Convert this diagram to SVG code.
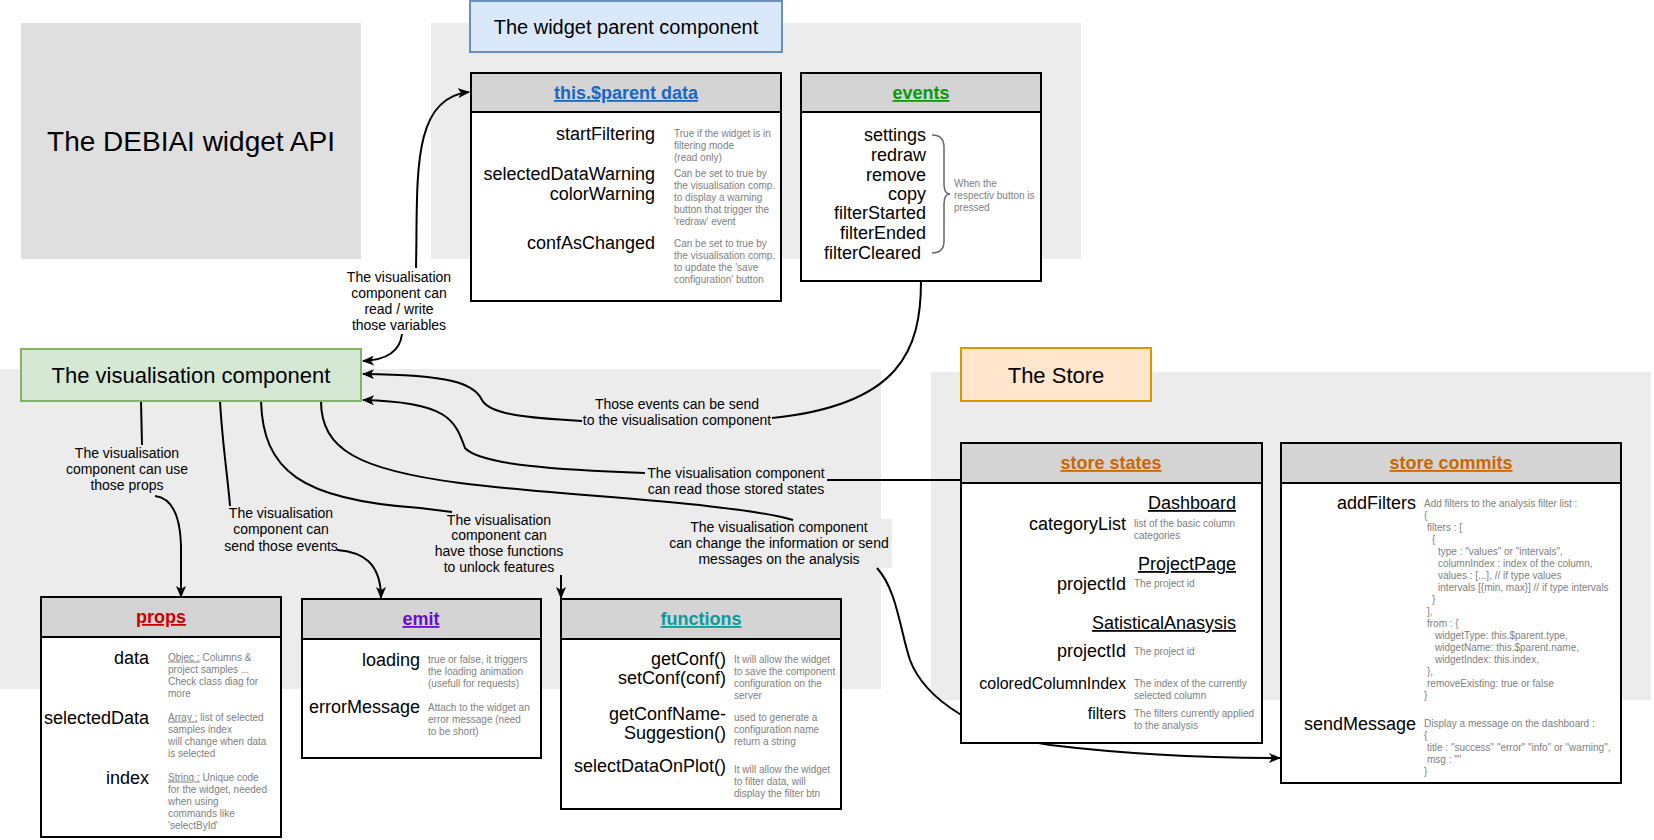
<svg xmlns="http://www.w3.org/2000/svg" width="1654" height="840" viewBox="0 0 1654 840">
<style>
text{font-family:"Liberation Sans",Arial,Helvetica,sans-serif;fill:#000}
.area{fill:#ececec}
.box{fill:#fff;stroke:#000;stroke-width:2}
.hdr{fill:#d4d4d4;stroke:#000;stroke-width:2}
.ttl{font-size:18px;font-weight:bold;text-anchor:middle;text-decoration:underline}
.lbl{font-size:18px;text-anchor:end}
.lbl16{font-size:16px;text-anchor:end}
.sec{font-size:18px;text-anchor:end;text-decoration:underline}
.d{font-size:10px;fill:#808080}
.big{font-size:22px;text-anchor:middle}
.el{font-size:14px;text-anchor:middle}
.edge{fill:none;stroke:#000;stroke-width:2}
</style>
<defs>
<marker id="arr" viewBox="0 0 12 10" refX="11" refY="5" markerWidth="12" markerHeight="10" orient="auto-start-reverse" markerUnits="userSpaceOnUse">
<path d="M0,0 L12,5 L0,10 L3,5 z" fill="#000"/>
</marker>
</defs>

<!-- background areas -->
<g id="areas">
<rect x="21" y="23" width="340" height="236" fill="#dfdfdf"/>
<rect class="area" x="431" y="23" width="650" height="236"/>
<rect class="area" x="0" y="369" width="881" height="320"/>
<rect class="area" x="931" y="372" width="720" height="328"/>
</g>

<g id="title">
<text x="191" y="151" style="font-size:28px;text-anchor:middle">The DEBIAI widget API</text>
</g>

<!-- connectors -->
<g id="connectors">
<rect x="668" y="519" width="224" height="49" fill="#ececec"/>
<!-- C1 read/write -->
<path class="edge" d="M416 268 C418 180, 410 98, 469 92" marker-end="url(#arr)"/>
<path class="edge" d="M402 334 C400 352, 386 360, 363 361" marker-end="url(#arr)"/>
<!-- C2 events -->
<path class="edge" d="M921 281 C921 350, 900 405, 772 418"/>
<path class="edge" d="M582 421 C530 418, 490 415, 482 400 C474 383, 450 375, 363 374" marker-end="url(#arr)"/>
<!-- C3 stored states -->
<path class="edge" d="M961 480 L827 480"/>
<path class="edge" d="M645 473 C560 470, 480 465, 465 448 C455 420, 448 402, 363 400" marker-end="url(#arr)"/>
<!-- C4 change info -->
<path class="edge" d="M321 401 C321 450, 360 470, 460 483 C560 496, 730 502, 793 520"/>
<path class="edge" d="M877 568 C897 590, 900 630, 910 660 C925 700, 980 735, 1050 745 C1150 757, 1230 758, 1280 758" marker-end="url(#arr)"/>
<!-- C5 props -->
<path class="edge" d="M141 401 L142 445"/>
<path class="edge" d="M155 496 C172 498, 180 515, 181 545 L181 597" marker-end="url(#arr)"/>
<!-- C6 emit -->
<path class="edge" d="M220 401 C222 440, 228 480, 230 506"/>
<path class="edge" d="M337 550 C362 552, 381 562, 381 598" marker-end="url(#arr)"/>
<!-- C7 functions -->
<path class="edge" d="M261 401 C263 470, 300 500, 420 508 L452 512"/>
<path class="edge" d="M561 575 L561 598" marker-end="url(#arr)"/>

<text class="el"><tspan x="399" y="282">The visualisation</tspan><tspan x="399" y="298">component can</tspan><tspan x="399" y="314">read / write</tspan><tspan x="399" y="330">those variables</tspan></text>
<text class="el"><tspan x="677" y="409">Those events can be send</tspan><tspan x="677" y="425">to the visualisation component</tspan></text>
<text class="el"><tspan x="736" y="478">The visualisation component</tspan><tspan x="736" y="494">can read those stored states</tspan></text>
<text class="el"><tspan x="779" y="532">The visualisation component</tspan><tspan x="779" y="548">can change the information or send</tspan><tspan x="779" y="564">messages on the analysis</tspan></text>
<text class="el"><tspan x="127" y="458">The visualisation</tspan><tspan x="127" y="474">component can use</tspan><tspan x="127" y="490">those props</tspan></text>
<text class="el"><tspan x="281" y="518">The visualisation</tspan><tspan x="281" y="534">component can</tspan><tspan x="281" y="551">send those events</tspan></text>
<text class="el"><tspan x="499" y="525">The visualisation</tspan><tspan x="499" y="540">component can</tspan><tspan x="499" y="556">have those functions</tspan><tspan x="499" y="572">to unlock features</tspan></text>
</g>

<g id="widget-parent">
<rect x="470" y="1" width="312" height="51" fill="#dae8fc" stroke="#6c8ebf" stroke-width="2"/>
<text x="626" y="34" style="font-size:20px;text-anchor:middle">The widget parent component</text>
</g>

<g id="parent-data">
<rect class="box" x="471" y="73" width="310" height="228"/>
<rect class="hdr" x="471" y="73" width="310" height="39"/>
<text class="ttl" x="626" y="99" style="fill:#1a66c8">this.$parent data</text>
<text class="lbl" x="655" y="140">startFiltering</text>
<text class="lbl" x="655" y="180">selectedDataWarning</text>
<text class="lbl" x="655" y="200">colorWarning</text>
<text class="lbl" x="655" y="249">confAsChanged</text>
<text class="d"><tspan x="674" y="136.5">True if the widget is in</tspan><tspan x="674" y="148.5">filtering mode</tspan><tspan x="674" y="160.5">(read only)</tspan></text>
<text class="d"><tspan x="674" y="176.5">Can be set to true by</tspan><tspan x="674" y="188.5">the visualisation comp.</tspan><tspan x="674" y="200.5">to display a warning</tspan><tspan x="674" y="212.5">button that trigger the</tspan><tspan x="674" y="224.5">'redraw' event</tspan></text>
<text class="d"><tspan x="674" y="246.5">Can be set to true by</tspan><tspan x="674" y="258.5">the visualisation comp.</tspan><tspan x="674" y="270.5">to update the 'save</tspan><tspan x="674" y="282.5">configuration' button</tspan></text>
</g>

<g id="events">
<rect class="box" x="801" y="73" width="240" height="208"/>
<rect class="hdr" x="801" y="73" width="240" height="39"/>
<text class="ttl" x="921" y="99" style="fill:#0a9a0a">events</text>
<text class="lbl" x="926" y="141">settings</text>
<text class="lbl" x="926" y="161">redraw</text>
<text class="lbl" x="926" y="181">remove</text>
<text class="lbl" x="926" y="200">copy</text>
<text class="lbl" x="926" y="219">filterStarted</text>
<text class="lbl" x="926" y="239">filterEnded</text>
<text class="lbl" x="921" y="259">filterCleared</text>
<path d="M932 135 Q944 135 944 147 L944 184 Q944 194 950 194 Q944 194 944 204 L944 241 Q944 253 932 253" fill="none" stroke="#666" stroke-width="1.5"/>
<text class="d"><tspan x="954" y="186.5">When the</tspan><tspan x="954" y="198.5">respectiv button is</tspan><tspan x="954" y="210.5">pressed</tspan></text>
</g>

<g id="visualisation">
<rect x="21" y="349" width="340" height="52" fill="#d5e8d4" stroke="#82b366" stroke-width="2"/>
<text class="big" x="191" y="383">The visualisation component</text>
</g>

<g id="props">
<rect class="box" x="41" y="597" width="240" height="240"/>
<rect class="hdr" x="41" y="597" width="240" height="40"/>
<text class="ttl" x="161" y="623" style="fill:#cc0000">props</text>
<text class="lbl" x="149" y="664">data</text>
<text class="lbl" x="149" y="724">selectedData</text>
<text class="lbl" x="149" y="784">index</text>
<text class="d"><tspan x="168" y="660.5" text-decoration="underline">Objec :</tspan><tspan> Columns &amp;</tspan><tspan x="168" y="672.5">project samples ...</tspan><tspan x="168" y="684.5">Check class diag for</tspan><tspan x="168" y="696.5">more</tspan></text>
<text class="d"><tspan x="168" y="720.5" text-decoration="underline">Array :</tspan><tspan> list of selected</tspan><tspan x="168" y="732.5">samples index</tspan><tspan x="168" y="744.5">will change when data</tspan><tspan x="168" y="756.5">is selected</tspan></text>
<text class="d"><tspan x="168" y="780.5" text-decoration="underline">String :</tspan><tspan> Unique code</tspan><tspan x="168" y="792.5">for the widget, needed</tspan><tspan x="168" y="804.5">when using</tspan><tspan x="168" y="816.5">commands like</tspan><tspan x="168" y="828.5">'selectById'</tspan></text>
</g>

<g id="emit">
<rect class="box" x="302" y="599" width="239" height="159"/>
<rect class="hdr" x="302" y="599" width="239" height="40"/>
<text class="ttl" x="421" y="625" style="fill:#6a0dcc">emit</text>
<text class="lbl" x="420" y="666">loading</text>
<text class="lbl" x="420" y="713">errorMessage</text>
<text class="d"><tspan x="428" y="662.5">true or false, it triggers</tspan><tspan x="428" y="674.5">the loading animation</tspan><tspan x="428" y="686.5">(usefull for requests)</tspan></text>
<text class="d"><tspan x="428" y="710.5">Attach to the widget an</tspan><tspan x="428" y="722.5">error message (need</tspan><tspan x="428" y="734.5">to be short)</tspan></text>
</g>

<g id="functions">
<rect class="box" x="561" y="599" width="280" height="210"/>
<rect class="hdr" x="561" y="599" width="280" height="40"/>
<text class="ttl" x="701" y="625" style="fill:#0a9a9a">functions</text>
<text class="lbl" x="726" y="665">getConf()</text>
<text class="lbl" x="726" y="684">setConf(conf)</text>
<text class="lbl" x="726" y="720">getConfName-</text>
<text class="lbl" x="726" y="739">Suggestion()</text>
<text class="lbl" x="726" y="772">selectDataOnPlot()</text>
<text class="d"><tspan x="734" y="662.5">It will allow the widget</tspan><tspan x="734" y="674.5">to save the component</tspan><tspan x="734" y="686.5">configuration on the</tspan><tspan x="734" y="698.5">server</tspan></text>
<text class="d"><tspan x="734" y="720.5">used to generate a</tspan><tspan x="734" y="732.5">configuration name</tspan><tspan x="734" y="744.5">return a string</tspan></text>
<text class="d"><tspan x="734" y="772.5">It will allow the widget</tspan><tspan x="734" y="784.5">to filter data, will</tspan><tspan x="734" y="796.5">display the filter btn</tspan></text>
</g>

<g id="store">
<rect x="961" y="348" width="190" height="53" fill="#ffe6cc" stroke="#d79b00" stroke-width="2"/>
<text class="big" x="1056" y="383">The Store</text>
</g>

<g id="store-states">
<rect class="box" x="961" y="443" width="301" height="300"/>
<rect class="hdr" x="961" y="443" width="301" height="40"/>
<text class="ttl" x="1111" y="469" style="fill:#cc6600">store states</text>
<text class="sec" x="1236" y="509">Dashboard</text>
<text class="lbl" x="1126" y="530">categoryList</text>
<text class="d"><tspan x="1134" y="526.5">list of the basic column</tspan><tspan x="1134" y="538.5">categories</tspan></text>
<text class="sec" x="1236" y="570">ProjectPage</text>
<text class="lbl" x="1126" y="590">projectId</text>
<text class="d" x="1134" y="586.5">The project id</text>
<text class="sec" x="1236" y="629">SatisticalAnasysis</text>
<text class="lbl" x="1126" y="657">projectId</text>
<text class="d" x="1134" y="654.5">The project id</text>
<text class="lbl16" x="1126" y="689">coloredColumnIndex</text>
<text class="d"><tspan x="1134" y="686.5">The index of the currently</tspan><tspan x="1134" y="698.5">selected column</tspan></text>
<text class="lbl16" x="1126" y="719">filters</text>
<text class="d"><tspan x="1134" y="716.5">The filters currently applied</tspan><tspan x="1134" y="728.5">to the analysis</tspan></text>
</g>

<g id="store-commits">
<rect class="box" x="1281" y="443" width="340" height="340"/>
<rect class="hdr" x="1281" y="443" width="340" height="40"/>
<text class="ttl" x="1451" y="469" style="fill:#cc6600">store commits</text>
<text class="lbl" x="1416" y="509">addFilters</text>
<text class="d">
<tspan x="1424" y="506.5">Add filters to the analysis filter list :</tspan>
<tspan x="1424" y="518.5">{</tspan>
<tspan x="1427" y="530.5">filters : [</tspan>
<tspan x="1432" y="542.5">{</tspan>
<tspan x="1438" y="554.5">type : "values" or "intervals",</tspan>
<tspan x="1438" y="566.5">columnIndex : index of the column,</tspan>
<tspan x="1438" y="578.5">values : [...], // if type values</tspan>
<tspan x="1438" y="590.5">intervals [{min, max}] // if type intervals</tspan>
<tspan x="1432" y="602.5">}</tspan>
<tspan x="1427" y="614.5">],</tspan>
<tspan x="1427" y="626.5">from : {</tspan>
<tspan x="1435" y="638.5">widgetType: this.$parent.type,</tspan>
<tspan x="1435" y="650.5">widgetName: this.$parent.name,</tspan>
<tspan x="1435" y="662.5">widgetIndex: this.index,</tspan>
<tspan x="1427" y="674.5">},</tspan>
<tspan x="1427" y="686.5">removeExisting: true or false</tspan>
<tspan x="1424" y="698.5">}</tspan>
</text>
<text class="lbl" x="1416" y="730">sendMessage</text>
<text class="d">
<tspan x="1424" y="726.5">Display a message on the dashboard :</tspan>
<tspan x="1424" y="738.5">{</tspan>
<tspan x="1427" y="750.5">title : "success" "error" "info" or "warning",</tspan>
<tspan x="1427" y="762.5">msg : ""</tspan>
<tspan x="1424" y="774.5">}</tspan>
</text>
</g>
</svg>
